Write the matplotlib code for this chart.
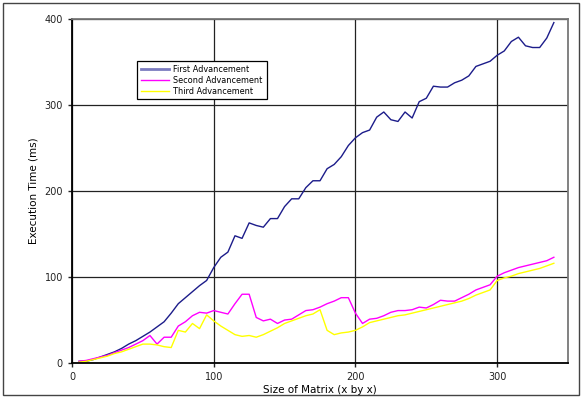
import matplotlib
matplotlib.use('Agg')
import matplotlib.pyplot as plt
from matplotlib.lines import Line2D
from matplotlib.patches import Rectangle

# matrix sizes (x by x)
size = list(range(5, 345, 5))

first = [2, 2, 4, 7, 10, 13, 17, 22, 26, 31, 36, 42, 48, 58, 69, 76, 83, 90, 96, 111,
         123, 129, 148, 145, 163, 160, 158, 168, 168, 182, 191, 191, 204, 212, 212, 226, 231, 240, 253, 262,
         268, 271, 286, 292, 283, 281, 292, 285, 304, 308, 322, 321, 321, 326, 329, 334, 345, 348, 351, 358,
         363, 374, 379, 369, 367, 367, 378, 396]

second = [2, 3, 5, 7, 9, 12, 15, 18, 22, 26, 32, 22, 30, 30, 43, 48, 55, 59, 58, 61,
          59, 57, 69, 80, 80, 53, 49, 51, 46, 50, 51, 56, 61, 62, 65, 69, 72, 76, 76, 58,
          46, 51, 52, 55, 59, 61, 61, 62, 65, 64, 68, 73, 72, 72, 76, 80, 85, 88, 91, 101,
          105, 108, 111, 113, 115, 117, 119, 123]

third = [1, 2, 4, 6, 8, 11, 13, 16, 19, 22, 22, 21, 19, 18, 38, 36, 46, 40, 56, 49,
         43, 38, 33, 31, 32, 30, 33, 37, 41, 46, 49, 52, 55, 57, 62, 38, 33, 35, 36, 38,
         42, 47, 49, 51, 53, 55, 56, 58, 60, 62, 64, 66, 68, 70, 72, 75, 79, 82, 85, 96,
         99, 101, 104, 106, 108, 110, 113, 116]

fig = plt.figure(figsize=(5.82, 3.99), dpi=100)
ax = fig.add_axes([0.1237, 0.0902, 0.8523, 0.8618])

ax.plot(size, first, color='#1c1c8a', lw=1)
ax.plot(size, second, color='#ff00ff', lw=1)
ax.plot(size, third, color='#ffff00', lw=1)

ax.set_xlim(0, 350)
ax.set_ylim(0, 400)
ax.set_xticks([0, 100, 200, 300])
ax.set_yticks([0, 100, 200, 300, 400])
ax.tick_params(labelsize=7, length=3, width=1, colors='#222222')
ax.grid(True, color='#222222', lw=0.9)
ax.set_axisbelow(True)

for s in ['left', 'bottom']:
    ax.spines[s].set_color('black')
    ax.spines[s].set_linewidth(1.3)
for s in ['top', 'right']:
    ax.spines[s].set_color('#777777')
    ax.spines[s].set_linewidth(1.3)

ax.set_xlabel('Size of Matrix (x by x)', fontsize=7.5, labelpad=2)
ax.set_ylabel('Execution Time (ms)', fontsize=7.5, labelpad=4)

handles = [Line2D([], [], color='#7b7bc0', lw=2),
           Line2D([], [], color='#ff00ff', lw=1),
           Line2D([], [], color='#ffff00', lw=1)]
leg = ax.legend(handles, ['First Advancement', 'Second Advancement', 'Third Advancement'],
                loc='upper left', bbox_to_anchor=(0.131, 0.877), fontsize=5.9,
                fancybox=False, edgecolor='black', framealpha=1,
                handlelength=3.4, handletextpad=0.6, labelspacing=0.22,
                borderpad=0.45, borderaxespad=0)
leg.get_frame().set_linewidth(0.9)

# border round the whole figure
fig.patches.append(Rectangle((0.006, 0.01), 0.988, 0.982, transform=fig.transFigure,
                             fill=False, edgecolor='#444444', lw=1))

fig.savefig('out.png', dpi=100)
